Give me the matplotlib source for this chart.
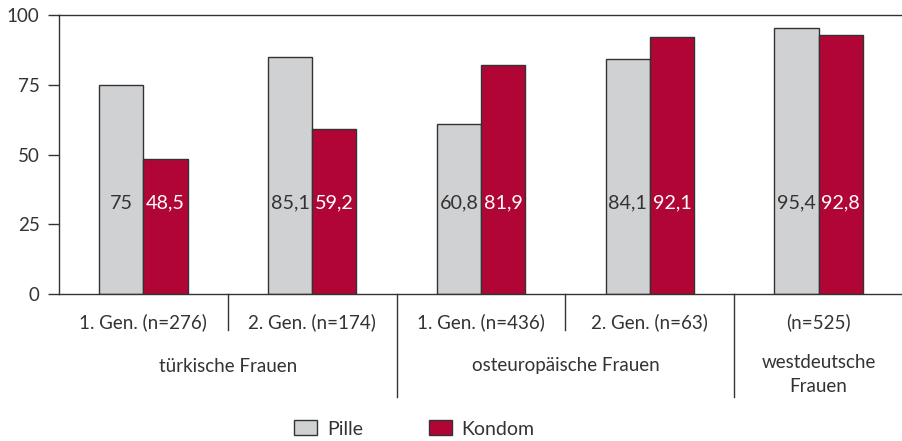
import matplotlib
matplotlib.use("Agg")
import matplotlib.pyplot as plt
from matplotlib.transforms import blended_transform_factory
from matplotlib.patches import Patch
import numpy as np

plt.rcParams['font.family'] = ['Lato', 'DejaVu Sans']

sub_labels = ["1. Gen. (n=276)", "2. Gen. (n=174)", "1. Gen. (n=436)", "2. Gen. (n=63)", "(n=525)"]
group_labels = ["türkische Frauen", "osteuropäische Frauen", "westdeutsche\nFrauen"]
group_spans = [(0, 1), (2, 3), (4, 4)]
pille = [75, 85.1, 60.8, 84.1, 95.4]
kondom = [48.5, 59.2, 81.9, 92.1, 92.8]
series_names = ["Pille", "Kondom"]
yticks = [0, 25, 50, 75, 100]

c_pille = "#d0d1d3"
c_kondom = "#b10535"
edge = "#333333"
txt = "#333333"

W, H = 903, 441
fig = plt.figure(figsize=(W / 100, H / 100), dpi=100)
ax = fig.add_axes([59 / W, 1 - 294 / H, (W - 59) / W, (294 - 15) / H])

x = np.arange(len(pille))
bw = 0.262
ax.bar(x - bw / 2, pille, bw, color=c_pille, edgecolor=edge, linewidth=1.0, zorder=2)
ax.bar(x + bw / 2, kondom, bw, color=c_kondom, edgecolor=edge, linewidth=1.0, zorder=2)

def fmt(v):
    s = ("%.1f" % v).rstrip("0").rstrip(".")
    return s.replace(".", ",")

for xi, p, k in zip(x, pille, kondom):
    ax.text(xi - bw / 2, 32.5, fmt(p), ha="center", va="center", fontsize=14.2, color=txt, zorder=3)
    ax.text(xi + bw / 2, 32.5, fmt(k), ha="center", va="center", fontsize=14.2, color="white", zorder=3)

ax.set_xlim(-0.5, len(pille) - 0.5)
ax.set_ylim(0, 100)
ax.set_yticks(yticks)
ax.set_yticklabels([str(t) for t in yticks], fontsize=13.5, color=txt)
ax.tick_params(axis="y", length=8, width=1, color=edge, pad=6)
ax.set_xticks([])
for s in ["left", "top", "bottom"]:
    ax.spines[s].set_color(edge)
    ax.spines[s].set_linewidth(1.0)
ax.spines["right"].set_visible(False)

tr = blended_transform_factory(ax.transData, fig.transFigure)
def fy(px):
    return 1 - px / H

# sub labels
for xi, lab in zip(x, sub_labels):
    ax.text(xi, fy(322), lab, transform=tr, ha="center", va="center", fontsize=13.5, color=txt)

# separators
for i in range(1, len(pille)):
    xs = i - 0.5
    long = any(i == a for a, b in group_spans)
    y_end = 397 if long else 330
    ax.plot([xs, xs], [fy(294), fy(y_end)], transform=tr, color=edge, lw=1.0, clip_on=False)

# group labels
for (a, b), lab in zip(group_spans, group_labels):
    ax.text((a + b) / 2, fy(366) if "\n" not in lab else fy(375), lab, transform=tr,
            ha="center", va="center", fontsize=13.5, color=txt, linespacing=1.5)

handles = [Patch(facecolor=c_pille, edgecolor=edge, linewidth=1.0),
           Patch(facecolor=c_kondom, edgecolor=edge, linewidth=1.0)]
fig.legend(handles, series_names, loc="center", bbox_to_anchor=(0.459, fy(429)), ncol=2,
           frameon=False, fontsize=14, handlelength=1.18, handleheight=0.8,
           columnspacing=3.4, handletextpad=0.5, labelcolor=txt)

fig.savefig("out.png", dpi=100)
